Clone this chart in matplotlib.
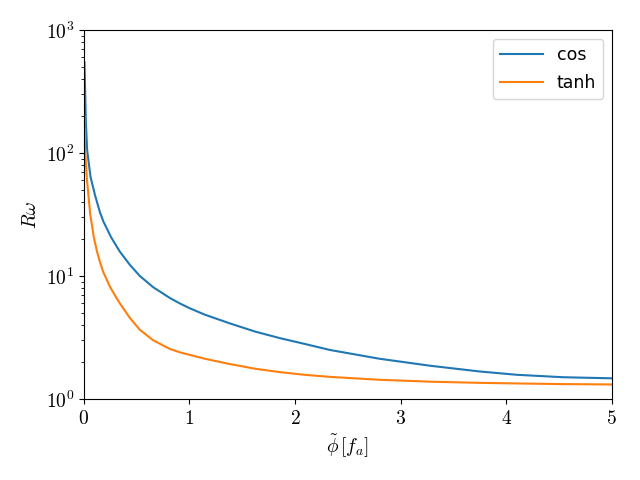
import math
import matplotlib
matplotlib.use("Agg")
import matplotlib.pyplot as plt
from matplotlib.ticker import FuncFormatter

# values
phi_cos = [0.006, 0.019, 0.031, 0.063, 0.107, 0.152, 0.186, 0.26, 0.34, 0.436,
           0.53, 0.656, 0.814, 0.91, 1.0, 1.146, 1.383, 1.62, 1.856, 2.09,
           2.33, 2.80, 3.28, 3.75, 4.10, 4.54, 5.0]
r_cos = [545, 180, 106, 64, 45, 33, 27.6, 20.5, 15.8, 12.3,
         10.0, 8.1, 6.62, 5.97, 5.47, 4.84, 4.11, 3.53, 3.12, 2.80,
         2.50, 2.12, 1.86, 1.67, 1.57, 1.50, 1.47]

phi_tanh = [0.005, 0.012, 0.03, 0.06, 0.095, 0.123, 0.152, 0.183, 0.246, 0.31,
            0.34, 0.436, 0.53, 0.656, 0.814, 0.91, 1.146, 1.383, 1.62, 1.856,
            2.09, 2.33, 2.80, 3.28, 3.75, 4.10, 4.5, 5.0]
r_tanh = [197, 106, 60, 32, 20.5, 16.0, 13.0, 10.8, 8.2, 6.6,
          6.0, 4.55, 3.65, 3.0, 2.55, 2.39, 2.12, 1.92, 1.76, 1.65,
          1.57, 1.51, 1.43, 1.38, 1.35, 1.335, 1.32, 1.31]

plt.rcParams["mathtext.fontset"] = "cm"

fig, ax = plt.subplots(figsize=(6.4, 4.8), dpi=100)
fig.subplots_adjust(left=0.131, right=0.956, top=0.9375, bottom=0.169)

ax.plot(phi_cos, r_cos, lw=1.5, label="cos")
ax.plot(phi_tanh, r_tanh, lw=1.5, label="tanh")

ax.set_yscale("log")
ax.set_xlim(0, 5)
ax.set_ylim(1, 1000)

ax.xaxis.set_major_formatter(FuncFormatter(lambda v, p: r"$%d$" % round(v)))
ax.yaxis.set_major_formatter(FuncFormatter(lambda v, p: r"$10^{%d}$" % round(math.log10(v))))
ax.tick_params(labelsize=14)

ax.set_xlabel(r"$\tilde{\phi}\,[f_a]$", fontsize=14)
ax.set_ylabel(r"$R\omega$", fontsize=14)
ax.legend(fontsize=12.5, handlelength=2.5, labelspacing=0.6)

fig.savefig("out.png")
